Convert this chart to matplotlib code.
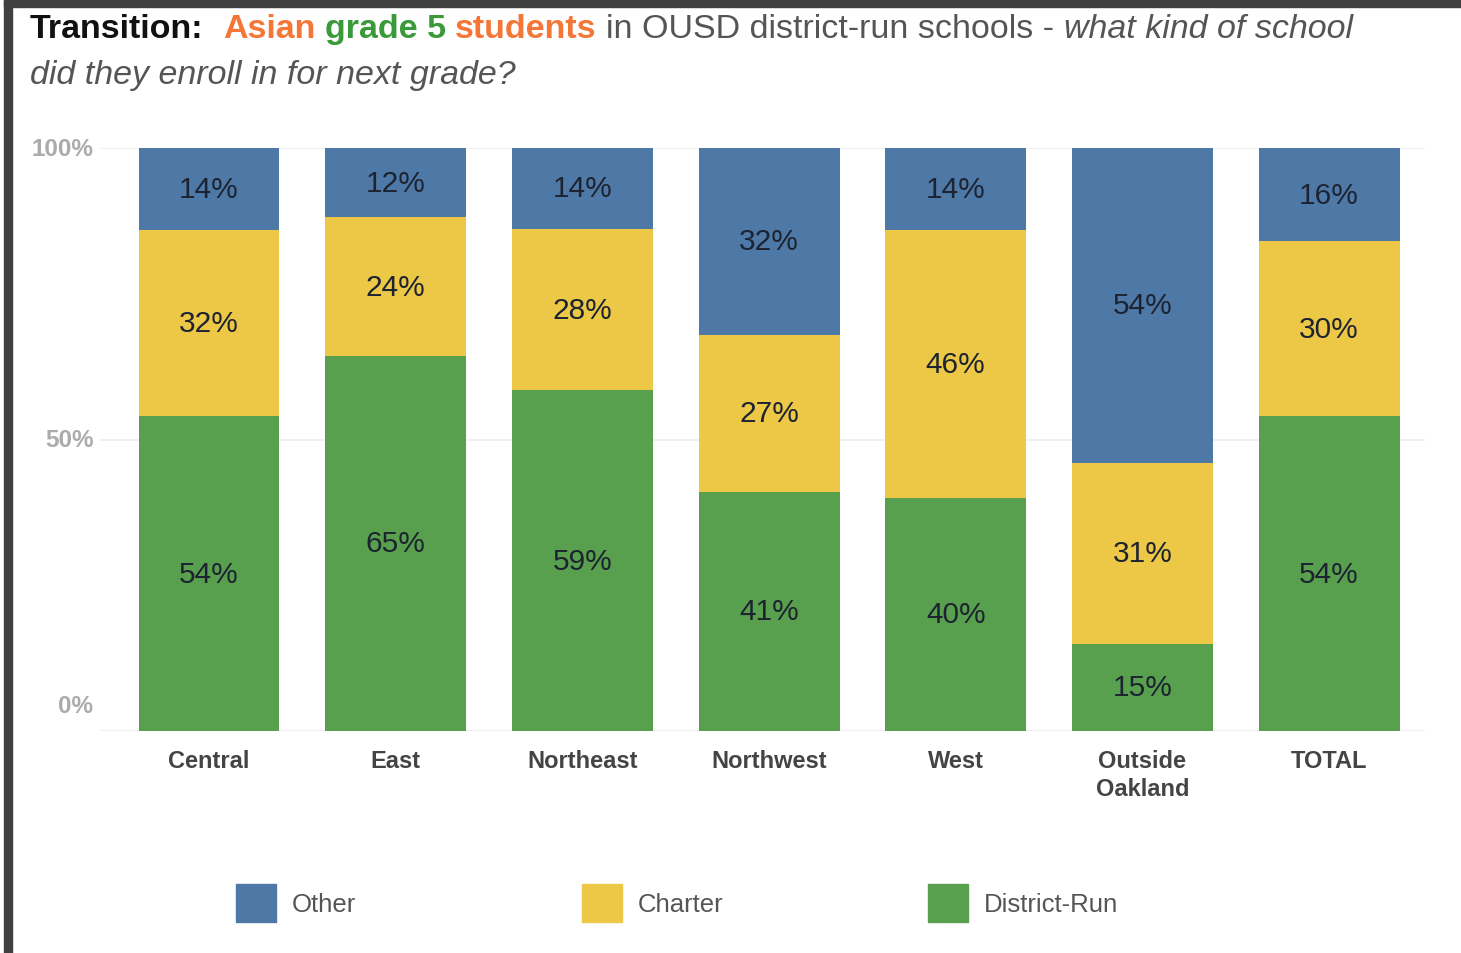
import numpy as np
import matplotlib
matplotlib.use('Agg')
import matplotlib.pyplot as plt
from matplotlib.patches import Patch, Rectangle

# data
regions = ['Central', 'East', 'Northeast', 'Northwest', 'West', 'Outside\nOakland', 'TOTAL']
district_run = [54, 65, 59, 41, 40, 15, 54]
charter = [32, 24, 28, 27, 46, 31, 30]
other = [14, 12, 14, 32, 14, 54, 16]

series = ['District-Run', 'Charter', 'Other']
colors = {'Other': '#4e79a7', 'Charter': '#ecc846', 'District-Run': '#58a04e'}
ytick_vals = [0, 50, 100]
ytick_labels = ['0%', '50%', '100%']

plt.rcParams['font.family'] = ['Liberation Sans', 'DejaVu Sans']

W, H = 1461, 954
fig = plt.figure(figsize=(W / 100, H / 100), dpi=100)

# dark frame on the left and top edges
fig.patches.append(Rectangle((4 / W, 0), 8 / W, 1 - 1 / H, transform=fig.transFigure,
                             color='#404040', zorder=0))
fig.patches.append(Rectangle((4 / W, 1 - 8 / H), 1 - 4 / W, 7 / H, transform=fig.transFigure,
                             color='#404040', zorder=0))

ax = fig.add_axes([100 / W, 1 - 732 / H, 1325 / W, 583 / H])

data = {'District-Run': np.array(district_run, float),
        'Charter': np.array(charter, float),
        'Other': np.array(other, float)}
total = sum(data.values())
x = np.arange(len(regions))
bottom = np.zeros(len(regions))
for name in series:
    vals = data[name] / total * 100
    ax.bar(x, vals, 0.755, bottom=bottom, color=colors[name], zorder=2)
    for xi, b, v, raw in zip(x, bottom, vals, data[name]):
        ax.text(xi, b + v / 2, f'{int(raw)}%', ha='center', va='center',
                fontsize=21.5, color='#1d2330', zorder=3)
    bottom += vals

ax.set_xlim(-0.584, 6.514)
ax.set_ylim(0, 100)
for v in ytick_vals:
    ax.axhline(v, color='#efefef', lw=1.2, zorder=1)

ax.set_xticks(x)
ax.set_xticklabels(regions, fontsize=17, fontweight='bold', color='#444444',
                   linespacing=1.25)
ax.tick_params(axis='x', length=0, pad=13)
ax.set_yticks([])
for v, lbl in zip(ytick_vals, ytick_labels):
    yy = v + (4.3 if v == 0 else 0)
    ax.text(-0.62, yy, lbl, ha='right', va='center', fontsize=17.5,
            fontweight='bold', color='#ababab')
for s in ax.spines.values():
    s.set_visible(False)

# legend: three separate entries at fixed positions
legend_x = [236, 582, 928]
for name, lx in zip(['Other', 'Charter', 'District-Run'], legend_x):
    fig.legend(handles=[Patch(color=colors[name])], labels=[name],
               loc='center left', bbox_to_anchor=(lx / W, 1 - 904 / H),
               frameon=False, fontsize=18.5, handlelength=1.56, handleheight=1.9,
               handletextpad=0.6, borderpad=0, borderaxespad=0,
               labelcolor='#555555')

# multi-coloured title
renderer = fig.canvas.get_renderer()


def put_pieces(x0, y0, pieces, size):
    xp = x0
    for text, gap, kw in pieces:
        xp += gap
        t = fig.text(xp / W, 1 - y0 / H, text, fontsize=size, va='baseline', **kw)
        xp += t.get_window_extent(renderer).width


tsize = 24.5
put_pieces(30, 38, [
    ('Transition:', 0, dict(fontweight='bold', color='#111111')),
    ('Asian', 20, dict(fontweight='bold', color='#f47738')),
    ('grade 5', 9, dict(fontweight='bold', color='#3a9a3a')),
    ('students', 9, dict(fontweight='bold', color='#f47738')),
    ('in OUSD district-run schools -', 10, dict(color='#555555')),
    ('what kind of school', 9, dict(style='italic', color='#555555')),
], tsize)
put_pieces(30, 84, [
    ('did they enroll in for next grade?', 0, dict(style='italic', color='#555555')),
], tsize)

fig.savefig('out.png', dpi=100)
